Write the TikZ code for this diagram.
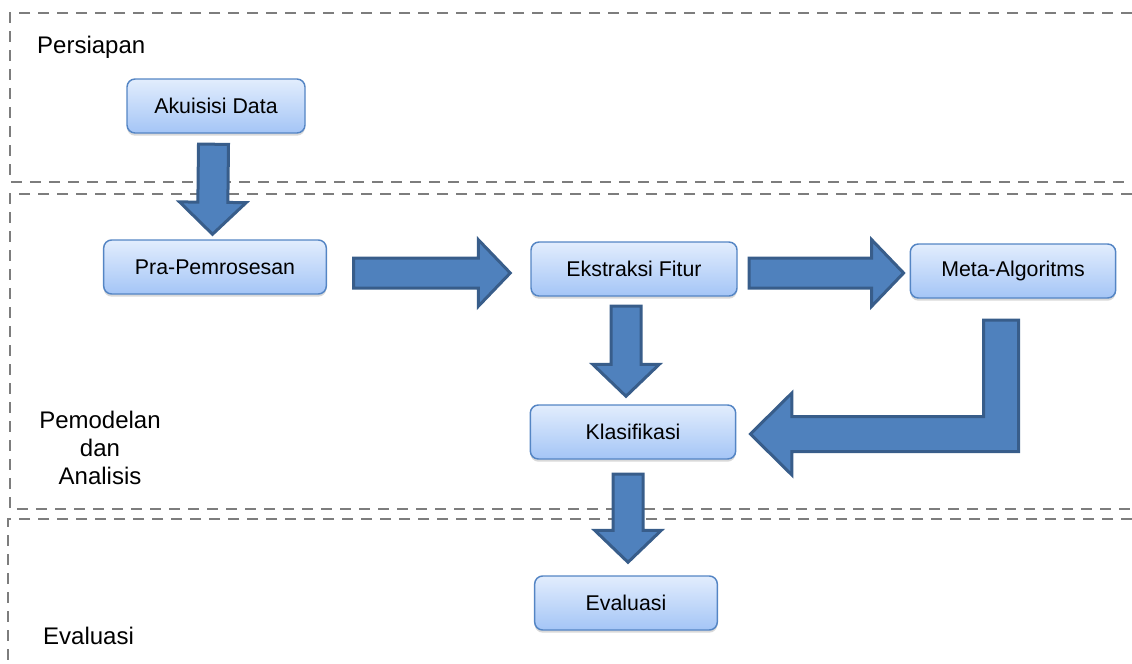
\documentclass[tikz,border=0pt]{standalone}
\usepackage{fontspec}
\setmainfont{Liberation Sans}
\usetikzlibrary{calc, shadows}

\definecolor{boxtop}{RGB}{226,237,253}
\definecolor{boxbot}{RGB}{164,197,246}
\definecolor{boxedge}{RGB}{84,133,196}
\definecolor{arrowfill}{RGB}{79,129,189}
\definecolor{arrowedge}{RGB}{56,93,138}
\definecolor{regiongray}{RGB}{125,125,125}

% straight block arrow from #1 (tail centre) to #2 (tip)
\newcommand{\fatarrow}[2]{%
  \coordinate (hb) at ($(#2)!24pt!(#1)$);
  \draw[blockarrow] ($(#1)!11.25pt!90:(#2)$) -- ($(hb)!11.25pt!-90:(#1)$)
    -- ($(hb)!25pt!-90:(#1)$) -- (#2) -- ($(hb)!25pt!90:(#1)$)
    -- ($(hb)!11.25pt!90:(#1)$) -- ($(#1)!11.25pt!-90:(#2)$) -- cycle;
}

\begin{document}
\begin{tikzpicture}
            [x=0.75pt, y=-0.75pt,
             stepbox/.style={draw=boxedge, line width=1.1pt, rounded corners=6pt,
               top color=boxtop, bottom color=boxbot, minimum height=40.5pt,
               font=\fontsize{16}{19}\selectfont,
               drop shadow={opacity=0.3, shadow xshift=0pt, shadow yshift=-2pt}},
             blockarrow/.style={draw=arrowedge, fill=arrowfill, line width=2.25pt},
             regionline/.style={draw=regiongray, line width=1.8pt, dash pattern=on 8.25pt off 6pt},
             regionlabel/.style={font=\fontsize{18}{21}\selectfont}]
            \useasboundingbox (0, 0) rectangle (1132, 664);

            % stage regions
            \draw[regionline] (1132, 13) -- (10, 13) -- (10, 182) -- (1132, 182);
            \draw[regionline] (1132, 194) -- (10, 194) -- (10, 509) -- (1132, 509);
            \draw[regionline] (1132, 519) -- (8, 519) -- (8, 664);

            \node[regionlabel, anchor=west] (lblpersiapan) at (32.5, 47) {Persiapan};
            \node[regionlabel, align=center] (lblpemodelan) at (100, 448) {Pemodelan\\dan\\Analisis};
            \node[regionlabel, anchor=west] (lblevaluasi) at (38.5, 636) {Evaluasi};

            % steps
            \node[stepbox, minimum width=133.5pt] (akuisisi) at (216, 106) {Akuisisi Data};
            \node[stepbox, minimum width=167pt] (pra) at (215, 267) {Pra-Pemrosesan};
            \node[stepbox, minimum width=154.5pt] (ekstraksi) at (634, 269) {Ekstraksi Fitur};
            \node[stepbox, minimum width=154pt] (meta) at (1013, 271) {Meta-Algoritms};
            \node[stepbox, minimum width=154pt] (klasifikasi) at (633, 432) {Klasifikasi};
            \node[stepbox, minimum width=137pt] (evaluasi) at (626, 603) {Evaluasi};

            % block arrows
            \coordinate (s1) at ($(akuisisi.south)+(-2.5, 10.5)$);
            \coordinate (t1) at ($(pra.north)+(-2.5, -5)$);
            \fatarrow{s1}{t1}
            \coordinate (s2) at ($(pra.east)+(26.5, 6)$);
            \coordinate (t2) at ($(ekstraksi.west)+(-20, 4)$);
            \fatarrow{s2}{t2}
            \coordinate (s3) at ($(ekstraksi.east)+(11.5, 4)$);
            \coordinate (t3) at ($(meta.west)+(-6, 2)$);
            \fatarrow{s3}{t3}
            \coordinate (s4) at ($(ekstraksi.south)+(-8, 9.5)$);
            \coordinate (t4) at ($(klasifikasi.north)+(-7, -8)$);
            \fatarrow{s4}{t4}
            \coordinate (s5) at ($(klasifikasi.south)+(-5, 14.5)$);
            \coordinate (t5) at ($(evaluasi.north)+(2, -13)$);
            \fatarrow{s5}{t5}

            \coordinate (ltop) at ($(meta.south)+(-29.5, 21.5)$);
            \coordinate (ltip) at ($(klasifikasi.east)+(14, 2)$);
            \draw[blockarrow] (ltop) -- ++(35, 0) |- ($(ltip)+(41.5, 17.5)$) -- ++(0, 23.5)
              -- (ltip) -- ($(ltip)+(41.5, -41)$) -- ++(0, 23.5) -| cycle;
        \end{tikzpicture}
\end{document}
